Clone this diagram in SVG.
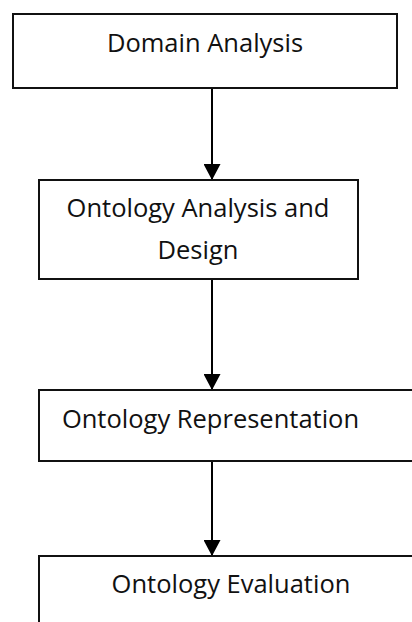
<svg xmlns="http://www.w3.org/2000/svg" width="412" height="622" viewBox="0 0 412 622">
  <defs>
    <marker id="arrow" viewBox="0 0 16 17" refX="16" refY="8.5" markerWidth="16" markerHeight="17" markerUnits="userSpaceOnUse" orient="auto">
      <path d="M0,0 L16,8.5 L0,17 Z" fill="#000"/>
    </marker>
    <style>
      .box { fill: #fff; stroke: #111; stroke-width: 2; }
      .lbl { font-family: "Open Sans", "Noto Sans", sans-serif; font-size: 25.5px; fill: #111; text-anchor: middle; }
      .conn { stroke: #000; stroke-width: 2; fill: none; marker-end: url(#arrow); }
    </style>
  </defs>
  <rect width="412" height="622" fill="#fff"/>
  <g id="connectors">
    <line class="conn" x1="212" y1="88" x2="212" y2="180"/>
    <line class="conn" x1="212" y1="279" x2="212" y2="390"/>
    <line class="conn" x1="212" y1="461" x2="212" y2="556"/>
  </g>
  <g id="domain-analysis">
    <rect class="box" x="13" y="14" width="384" height="74"/>
    <text class="lbl" x="205" y="52">Domain Analysis</text>
  </g>
  <g id="ontology-analysis-design">
    <rect class="box" x="39" y="180" width="319" height="99"/>
    <text class="lbl" x="198" y="217">Ontology Analysis and</text>
    <text class="lbl" x="198" y="259">Design</text>
  </g>
  <g id="ontology-representation">
    <rect class="box" x="39" y="390" width="380" height="71"/>
    <text class="lbl" x="210.5" y="428">Ontology Representation</text>
  </g>
  <g id="ontology-evaluation">
    <rect class="box" x="39" y="556" width="380" height="80"/>
    <text class="lbl" x="231" y="593">Ontology Evaluation</text>
  </g>
</svg>
